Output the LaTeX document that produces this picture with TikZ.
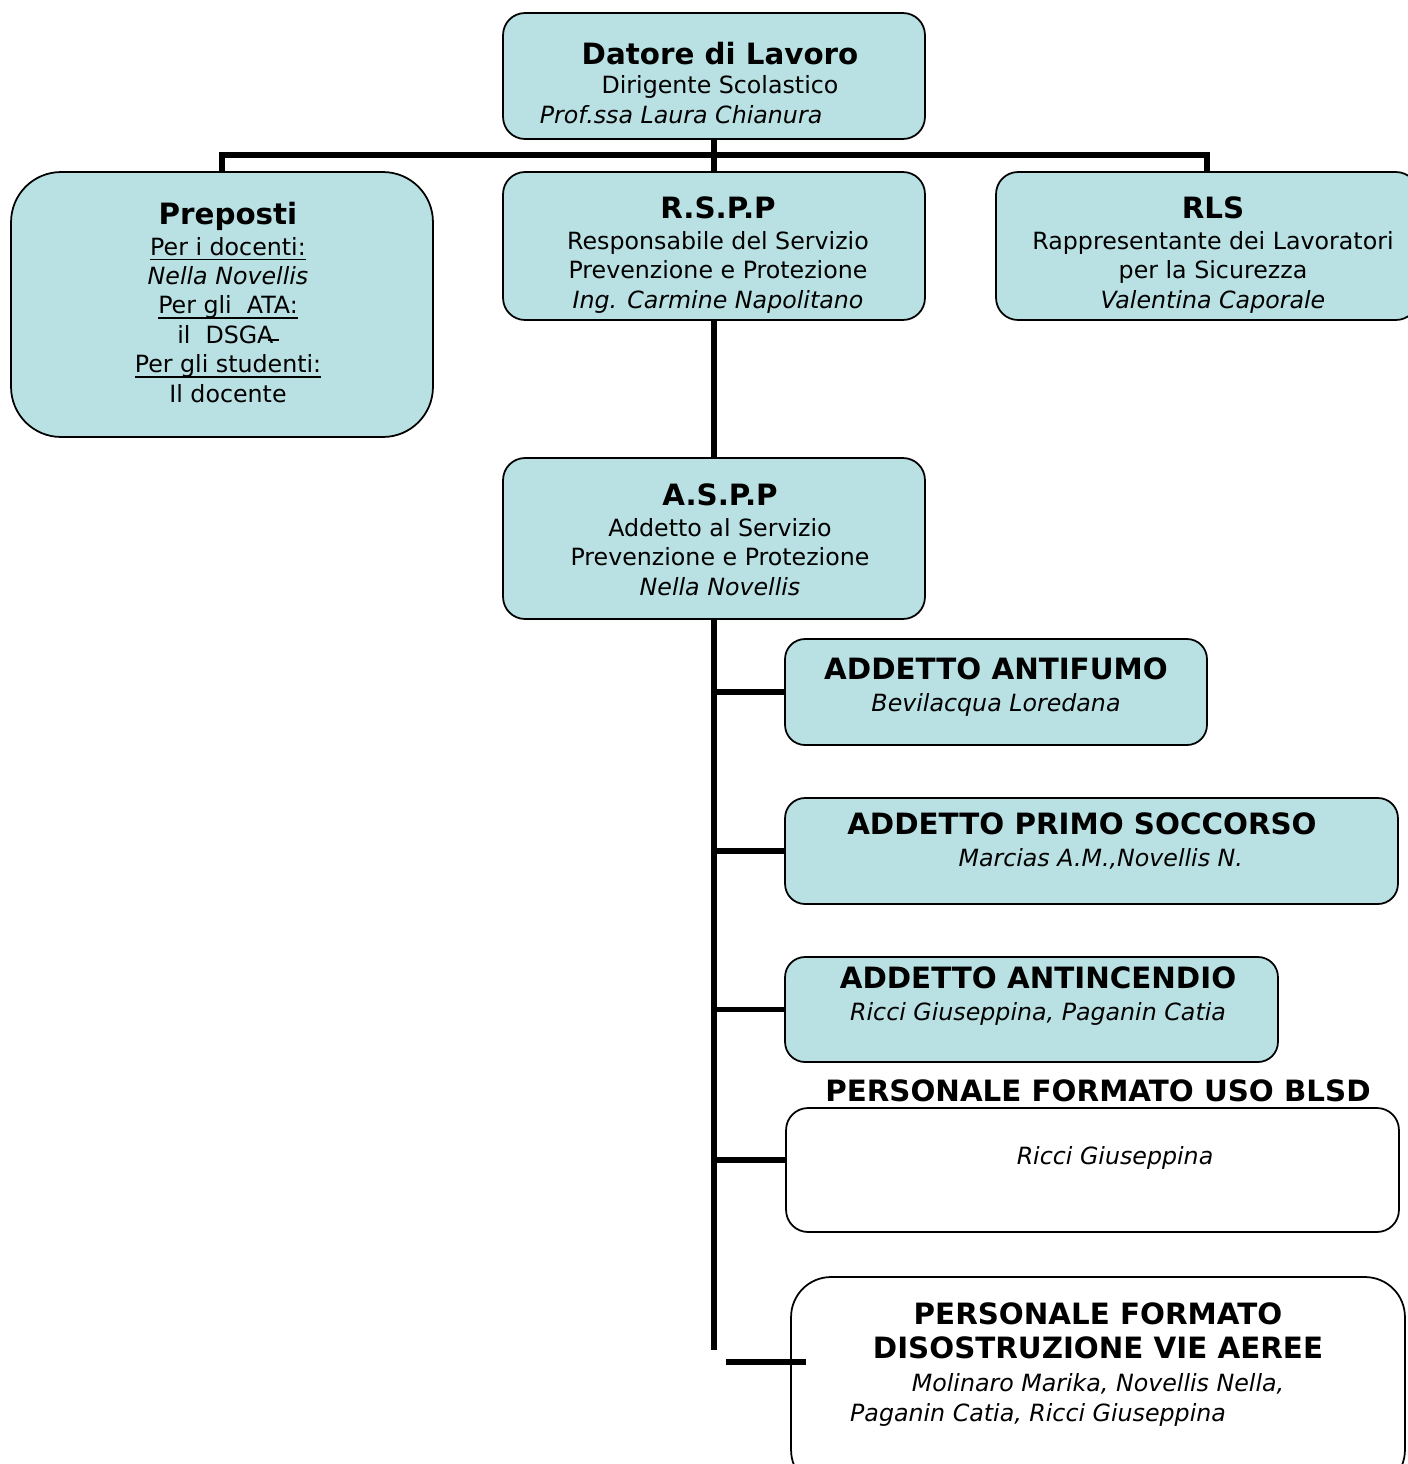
\documentclass[tikz,border=0pt]{standalone}
\usepackage{fontspec}
\setmainfont{DejaVu Sans}

\definecolor{boxfill}{RGB}{185,224,226}
\newcommand\txtfont{\fontsize{13.5}{16.7}\selectfont}
\newcommand\ttlfont{\fontsize{16.7}{16.7}\selectfont\bfseries}
\newcommand\uln[1]{{\setbox0\hbox{#1}\rlap{\rule[-2.8pt]{\wd0}{0.8pt}}\box0}}

\tikzset{
    box/.style={draw, line width=1pt, fill=boxfill, rounded corners=#1,
        inner sep=0pt, outer sep=0pt},
    box/.default=0.44cm,
    whitebox/.style={box=#1, fill=white},
    whitebox/.default=0.44cm,
    txt/.style={align=center, anchor=base, inner sep=0pt, font=\txtfont},
    conn/.style={line width=3.2pt}
}

\begin{document}
\begin{tikzpicture}[x=0.02cm, y=-0.02cm]
    \useasboundingbox (0,0) rectangle (1408,1464);

    % boxes
    \node[box, minimum width=8.44cm, minimum height=2.52cm] (datore) at (714,76) {};
    \node[box=1cm, minimum width=8.44cm, minimum height=5.3cm] (preposti) at (222,304.5) {};
    \node[box, minimum width=8.44cm, minimum height=2.96cm] (rspp) at (714,246) {};
    \node[box, minimum width=8.44cm, minimum height=2.96cm] (rls) at (1207,246) {};
    \node[box, minimum width=8.44cm, minimum height=3.22cm] (aspp) at (714,538.5) {};
    \node[box=0.4cm, minimum width=8.44cm, minimum height=2.12cm] (antifumo) at (996,692) {};
    \node[box=0.4cm, minimum width=12.26cm, minimum height=2.12cm] (primo) at (1091.5,851) {};
    \node[box=0.4cm, minimum width=9.86cm, minimum height=2.1cm] (antincendio) at (1031.5,1009.5) {};
    \node[whitebox, minimum width=12.26cm, minimum height=2.48cm] (blsd) at (1092.5,1170) {};
    \node[whitebox=0.8cm, minimum width=12.28cm, minimum height=4.26cm] (disostr) at (1098,1383.5) {};

    % connectors
    \draw[conn] (datore.south) -- (rspp.north);
    \draw[conn] (preposti.north) -- ++(0,-17) -| (rls.north);
    \draw[conn] (rspp.south) -- (aspp.north);
    \coordinate (trunkEnd) at (714,1350);
    \draw[conn] (aspp.south) -- (trunkEnd);
    \draw[conn] (aspp.south |- antifumo.west) -- (antifumo.west);
    \draw[conn] (aspp.south |- primo.west) -- (primo.west);
    \draw[conn] (aspp.south |- antincendio.west) -- (antincendio.west);
    \coordinate (blsdJoin) at (786,1160);
    \draw[conn] (aspp.south |- blsdJoin) -- (blsdJoin);
    \coordinate (stubL) at (726,1362);
    \coordinate (stubR) at (806,1362);
    \draw[conn] (stubL) -- (stubR);

    % texts (anchored on the baseline of their last line)
    \node[txt] (datoreTxt) at (720,123) {{\ttlfont Datore di Lavoro}\\Dirigente Scolastico\\{\itshape Prof.ssa Laura Chianura\kern1.56cm}};
    \node[txt] (prepostiTxt) at (228,402) {{\ttlfont Preposti}\\[1pt]\uln{Per i docenti:}\\{\itshape Nella Novellis}\\\uln{Per gli\ \ ATA:}\\il\ \ DSGA\kern-3pt\rule[1.5pt]{6pt}{0.8pt}\\\uln{Per gli studenti:}\\Il docente};
    \node[txt] (rsppTxt) at (718,308) {{\ttlfont R.S.P.P}\\[1pt]Responsabile del Servizio\\Prevenzione e Protezione\\{\itshape Ing. Carmine Napolitano}};
    \node[txt] (rlsTxt) at (1213,308) {{\ttlfont RLS}\\[1pt]Rappresentante dei Lavoratori\\per la Sicurezza\\{\itshape Valentina Caporale}};
    \node[txt] (asppTxt) at (720,595) {{\ttlfont A.S.P.P}\\[1pt]Addetto al Servizio\\Prevenzione e Protezione\\{\itshape Nella Novellis}};
    \node[txt] (antifumoTxt) at (996,711) {{\ttlfont ADDETTO ANTIFUMO}\\[1pt]{\itshape Bevilacqua Loredana}};
    \node[txt] (primoTxt) at (1082,866) {{\ttlfont ADDETTO PRIMO SOCCORSO}\\[1pt]{\itshape\kern0.75cm Marcias A.M.,Novellis N.}};
    \node[txt] (antincendioTxt) at (1038,1020) {{\ttlfont ADDETTO ANTINCENDIO}\\[1pt]{\itshape Ricci Giuseppina, Paganin Catia}};
    \node[txt, font=\ttlfont] (blsdTtl) at (1098,1101) {PERSONALE FORMATO USO BLSD};
    \node[txt] (blsdTxt) at (1115,1164) {\itshape Ricci Giuseppina};
    \node[txt] (disostrTxt) at (1098,1421) {{\ttlfont PERSONALE FORMATO}\\[3pt]{\ttlfont DISOSTRUZIONE VIE AEREE}\\[2pt]{\itshape Molinaro Marika, Novellis Nella,}\\{\itshape Paganin Catia, Ricci Giuseppina\kern2.4cm}};
\end{tikzpicture}
\end{document}
